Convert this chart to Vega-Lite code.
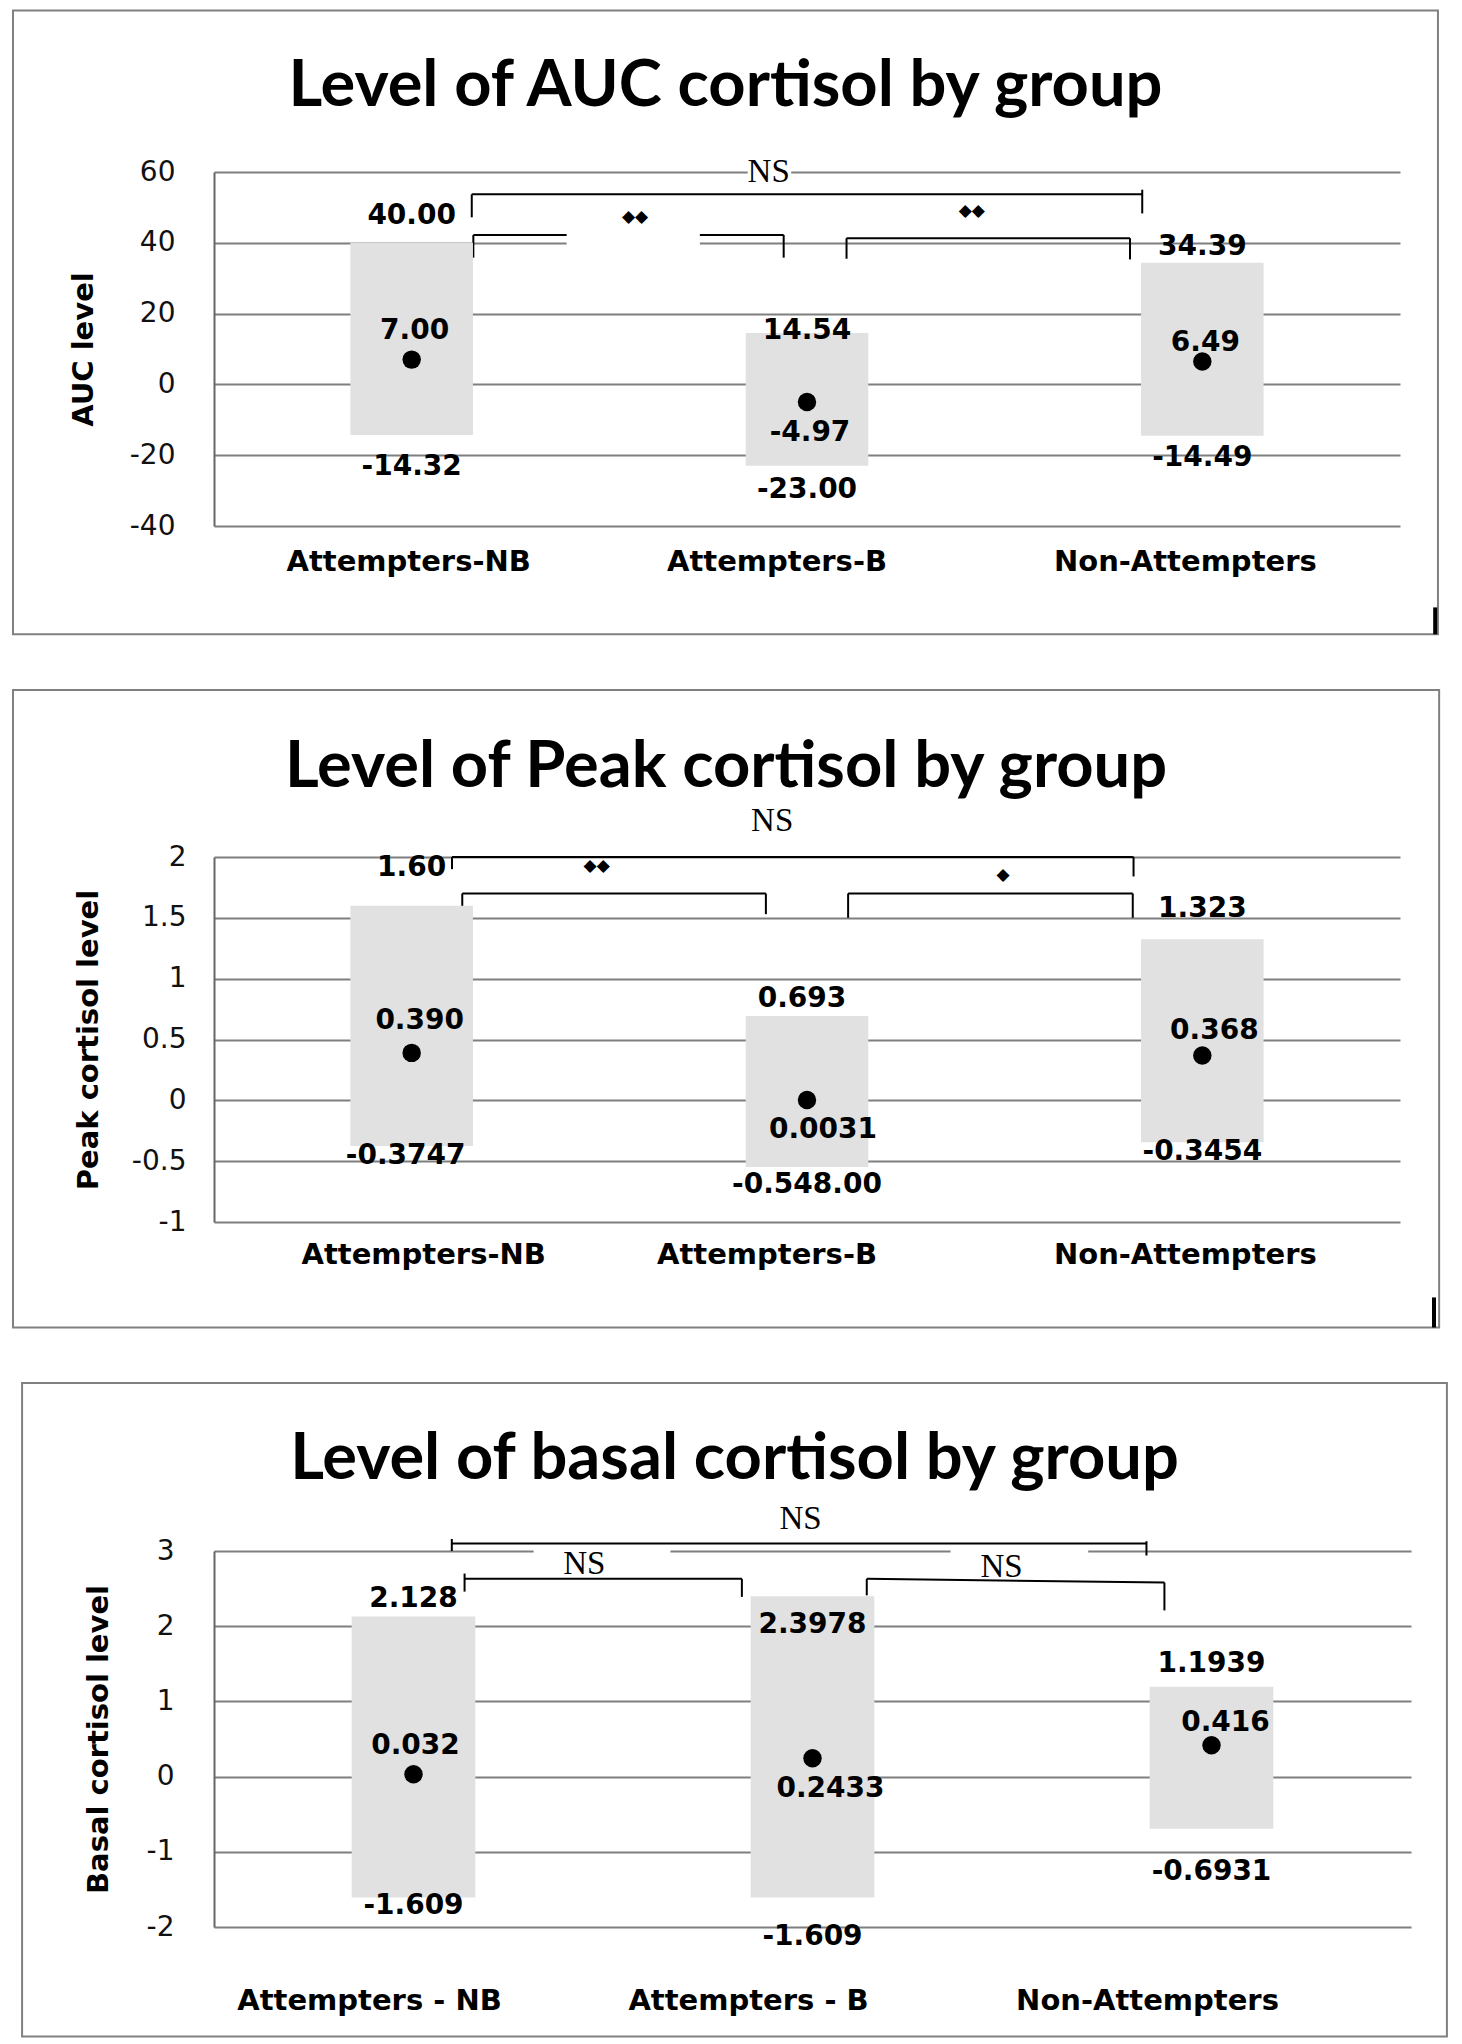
{
  "$schema": "https://vega.github.io/schema/vega-lite/v6.json",
  "background": "#ffffff",
  "padding": {"left": 12, "top": 9, "right": 10, "bottom": 5},
  "spacing": 52,
  "config": {"view": {"stroke": null}},
  "datasets": {
    "auc": [
      {"group": "Attempters-NB", "low": -14.32, "mean": 7.00, "high": 40.00, "lowLabel": "-14.32", "meanLabel": "7.00", "highLabel": "40.00"},
      {"group": "Attempters-B", "low": -23.00, "mean": -4.97, "high": 14.54, "lowLabel": "-23.00", "meanLabel": "-4.97", "highLabel": "14.54"},
      {"group": "Non-Attempters", "low": -14.49, "mean": 6.49, "high": 34.39, "lowLabel": "-14.49", "meanLabel": "6.49", "highLabel": "34.39"}
    ],
    "aucBr": [
      {"xa": 0.152, "xb": 1.848, "ya": 53.7, "yb": 53.7},
      {"xa": 0.152, "xb": 0.152, "ya": 53.7, "yb": 47.2},
      {"xa": 1.848, "xb": 1.848, "ya": 55.0, "yb": 48.3},
      {"xa": 0.156, "xb": 0.941, "ya": 42.2, "yb": 42.2},
      {"xa": 0.156, "xb": 0.156, "ya": 42.2, "yb": 35.8},
      {"xa": 0.941, "xb": 0.941, "ya": 42.2, "yb": 35.8},
      {"xa": 1.100, "xb": 1.817, "ya": 41.3, "yb": 41.3},
      {"xa": 1.100, "xb": 1.100, "ya": 41.3, "yb": 35.5},
      {"xa": 1.817, "xb": 1.817, "ya": 41.3, "yb": 35.3}
    ],
    "aucGap": [
      {"xa": 0.392, "xb": 0.729, "ya": 38.6, "yb": 43.6},
      {"xa": 0.85, "xb": 0.96, "ya": 58.5, "yb": 61.5}
    ],
    "aucSig": [
      {"label": "NS", "xa": 0.903, "ya": 60},
      {"label": "◆◆", "xa": 0.565, "ya": 47.3},
      {"label": "◆◆", "xa": 1.417, "ya": 48.9}
    ],
    "peak": [
      {"group": "Attempters-NB", "low": -0.3747, "mean": 0.390, "high": 1.60, "lowLabel": "-0.3747", "meanLabel": "0.390", "highLabel": "1.60"},
      {"group": "Attempters-B", "low": -0.548, "mean": 0.0031, "high": 0.693, "lowLabel": "-0.548.00", "meanLabel": "0.0031", "highLabel": "0.693"},
      {"group": "Non-Attempters", "low": -0.3454, "mean": 0.368, "high": 1.323, "lowLabel": "-0.3454", "meanLabel": "0.368", "highLabel": "1.323"}
    ],
    "peakBr": [
      {"xa": 0.102, "xb": 1.826, "ya": 2.0, "yb": 2.0},
      {"xa": 0.102, "xb": 0.102, "ya": 2.0, "yb": 1.90},
      {"xa": 1.826, "xb": 1.826, "ya": 2.0, "yb": 1.84},
      {"xa": 0.128, "xb": 0.896, "ya": 1.70, "yb": 1.70},
      {"xa": 0.128, "xb": 0.128, "ya": 1.70, "yb": 1.5},
      {"xa": 0.896, "xb": 0.896, "ya": 1.70, "yb": 1.53},
      {"xa": 1.104, "xb": 1.824, "ya": 1.70, "yb": 1.70},
      {"xa": 1.104, "xb": 1.104, "ya": 1.70, "yb": 1.5},
      {"xa": 1.824, "xb": 1.824, "ya": 1.70, "yb": 1.5}
    ],
    "peakSig": [
      {"label": "NS", "xa": 0.912, "ya": 2.30},
      {"label": "◆◆", "xa": 0.468, "ya": 1.93},
      {"label": "◆", "xa": 1.496, "ya": 1.85}
    ],
    "basal": [
      {"group": "Attempters - NB", "low": -1.609, "mean": 0.032, "high": 2.128, "lowLabel": "-1.609", "meanLabel": "0.032", "highLabel": "2.128"},
      {"group": "Attempters - B", "low": -1.609, "mean": 0.2433, "high": 2.3978, "lowLabel": "-1.609", "meanLabel": "0.2433", "highLabel": "2.3978"},
      {"group": "Non-Attempters", "low": -0.6931, "mean": 0.416, "high": 1.1939, "lowLabel": "-0.6931", "meanLabel": "0.416", "highLabel": "1.1939"}
    ],
    "basalBr": [
      {"xa": 0.096, "xb": 1.837, "ya": 3.10, "yb": 3.10},
      {"xa": 0.096, "xb": 0.096, "ya": 3.16, "yb": 3.0},
      {"xa": 1.837, "xb": 1.837, "ya": 3.13, "yb": 2.94},
      {"xa": 0.128, "xb": 0.823, "ya": 2.63, "yb": 2.63},
      {"xa": 0.128, "xb": 0.128, "ya": 2.70, "yb": 2.46},
      {"xa": 0.823, "xb": 0.823, "ya": 2.63, "yb": 2.39},
      {"xa": 1.136, "xb": 1.882, "ya": 2.63, "yb": 2.58},
      {"xa": 1.136, "xb": 1.136, "ya": 2.63, "yb": 2.41},
      {"xa": 1.882, "xb": 1.882, "ya": 2.58, "yb": 2.21}
    ],
    "basalGap": [
      {"xa": 0.301, "xb": 0.644, "ya": 2.72, "yb": 3.06},
      {"xa": 1.346, "xb": 1.691, "ya": 2.72, "yb": 3.06}
    ],
    "basalSig": [
      {"label": "NS", "xa": 0.970, "ya": 3.42},
      {"label": "NS", "xa": 0.428, "ya": 2.83},
      {"label": "NS", "xa": 1.474, "ya": 2.79}
    ]
  },
  "vconcat": [
    {
      "width": 1186, "height": 354,
      "title": {"text": "Level of AUC cortisol by group", "font": "Lato", "fontSize": 65, "fontWeight": "bold", "color": "#000", "anchor": "middle", "frame": "bounds", "baseline": "alphabetic", "offset": -162},
      "resolve": {"scale": {"x": "independent"}},
      "layer": [
        {
          "layer": [
            {"data": {"values": [{}]}, "mark": {"type": "rect", "fill": "#ffffff", "fillOpacity": 0, "stroke": "#808080", "strokeWidth": 2, "clip": false},
             "encoding": {"x": {"datum": -1.0084, "type": "quantitative", "scale": {"domain": [-0.5, 2.5], "nice": false, "zero": false}, "axis": null}, "x2": {"datum": 2.596},
                          "y": {"datum": 105.65, "type": "quantitative", "scale": {"domain": [-40, 60], "nice": false, "zero": false}}, "y2": {"datum": -70.6}}},
            {"data": {"values": [{}]}, "mark": {"type": "rule", "color": "#000", "strokeWidth": 4, "clip": false},
             "encoding": {"x": {"datum": 2.589, "type": "quantitative", "scale": {"domain": [-0.5, 2.5], "nice": false, "zero": false}, "axis": null},
                          "y": {"datum": -70.6, "type": "quantitative", "scale": {"domain": [-40, 60], "nice": false, "zero": false}}, "y2": {"datum": -63.0}}},
            {"data": {"name": "aucBr"}, "mark": {"type": "rule", "color": "#000", "strokeWidth": 2, "clip": false},
             "encoding": {"x": {"field": "xa", "type": "quantitative", "scale": {"domain": [-0.5, 2.5], "nice": false, "zero": false}, "axis": null}, "x2": {"field": "xb"},
                          "y": {"field": "ya", "type": "quantitative", "scale": {"domain": [-40, 60], "nice": false, "zero": false}}, "y2": {"field": "yb"}}},
            {"data": {"name": "aucGap"}, "mark": {"type": "rect", "color": "#ffffff", "clip": false},
             "encoding": {"x": {"field": "xa", "type": "quantitative", "scale": {"domain": [-0.5, 2.5], "nice": false, "zero": false}, "axis": null}, "x2": {"field": "xb"},
                          "y": {"field": "ya", "type": "quantitative", "scale": {"domain": [-40, 60], "nice": false, "zero": false}}, "y2": {"field": "yb"}}},
            {"data": {"name": "aucSig"}, "transform": [{"filter": "datum.label == 'NS'"}], "mark": {"type": "text", "font": "Liberation Serif", "fontSize": 33, "color": "#000", "baseline": "middle", "clip": false},
             "encoding": {"x": {"field": "xa", "type": "quantitative", "scale": {"domain": [-0.5, 2.5], "nice": false, "zero": false}, "axis": null},
                          "y": {"field": "ya", "type": "quantitative", "scale": {"domain": [-40, 60], "nice": false, "zero": false}}, "text": {"field": "label"}}},
            {"data": {"name": "aucSig"}, "transform": [{"filter": "datum.label != 'NS'"}], "mark": {"type": "text", "font": "DejaVu Sans", "fontSize": 17, "color": "#000", "baseline": "middle", "clip": false},
             "encoding": {"x": {"field": "xa", "type": "quantitative", "scale": {"domain": [-0.5, 2.5], "nice": false, "zero": false}, "axis": null},
                          "y": {"field": "ya", "type": "quantitative", "scale": {"domain": [-40, 60], "nice": false, "zero": false}}, "text": {"field": "label"}}}
          ]
        },
        {
          "data": {"name": "auc"},
          "layer": [
            {"mark": {"type": "bar", "width": {"band": 0.31}, "color": "#e1e1e1"},
             "encoding": {
               "x": {"field": "group", "type": "nominal", "sort": null, "scale": {"type": "band", "paddingInner": 0, "paddingOuter": 0},
                     "axis": {"title": null, "labelFont": "DejaVu Sans", "labelFontWeight": "bold", "labelFontSize": 29, "labelColor": "#000", "labelAngle": 0, "labelLimit": 0, "labelPadding": 21,
                              "labelOffset": {"condition": [{"test": "datum.value == 'Attempters-NB'", "value": -3}, {"test": "datum.value == 'Attempters-B'", "value": -30}], "value": -17},
                              "ticks": false, "tickSize": 0, "domain": false, "grid": false}},
               "y": {"field": "low", "type": "quantitative", "scale": {"domain": [-40, 60], "nice": false, "zero": false},
                     "axis": {"title": "AUC level", "titleFont": "DejaVu Sans", "titleFontSize": 29, "titleFontWeight": "bold", "titleColor": "#000", "titlePadding": 31,
                              "labelFont": "DejaVu Sans", "labelFontSize": 28, "labelColor": "#111", "labelPadding": 39, "ticks": false, "tickSize": 0,
                              "values": [-40, -20, 0, 20, 40, 60], "labelExpr": "toString(datum.value)",
                              "grid": true, "gridColor": "#7f7f7f", "gridWidth": 2, "domainColor": "#666", "domainWidth": 2}},
               "y2": {"field": "high"}}},
            {"mark": {"type": "point", "filled": true, "shape": "circle", "size": 340, "color": "#000", "opacity": 1},
             "encoding": {"x": {"field": "group", "type": "nominal", "sort": null}, "y": {"field": "mean", "type": "quantitative", "scale": {"domain": [-40, 60], "nice": false, "zero": false}}}},
            {"mark": {"type": "text", "font": "DejaVu Sans", "fontWeight": "bold", "fontSize": 28, "color": "#000", "baseline": "middle", "clip": false,
                      "dy": {"expr": "datum.group == 'Attempters-NB' ? -27 : datum.group == 'Attempters-B' ? -2 : -16"}},
             "encoding": {"x": {"field": "group", "type": "nominal", "sort": null}, "y": {"field": "high", "type": "quantitative", "scale": {"domain": [-40, 60], "nice": false, "zero": false}}, "text": {"field": "highLabel"}}},
            {"mark": {"type": "text", "font": "DejaVu Sans", "fontWeight": "bold", "fontSize": 28, "color": "#000", "baseline": "middle", "clip": false, "dx": 3,
                      "dy": {"expr": "datum.group == 'Attempters-NB' ? -29 : datum.group == 'Attempters-B' ? 31 : -18"}},
             "encoding": {"x": {"field": "group", "type": "nominal", "sort": null}, "y": {"field": "mean", "type": "quantitative", "scale": {"domain": [-40, 60], "nice": false, "zero": false}}, "text": {"field": "meanLabel"}}},
            {"mark": {"type": "text", "font": "DejaVu Sans", "fontWeight": "bold", "fontSize": 28, "color": "#000", "baseline": "middle", "clip": false,
                      "dy": {"expr": "datum.group == 'Attempters-NB' ? 32 : datum.group == 'Attempters-B' ? 24 : 22"}},
             "encoding": {"x": {"field": "group", "type": "nominal", "sort": null}, "y": {"field": "low", "type": "quantitative", "scale": {"domain": [-40, 60], "nice": false, "zero": false}}, "text": {"field": "lowLabel"}}}
          ]
        }
      ]
    },
    {
      "width": 1186, "height": 365,
      "title": {"text": "Level of Peak cortisol by group", "font": "Lato", "fontSize": 65, "fontWeight": "bold", "color": "#000", "anchor": "middle", "frame": "bounds", "baseline": "alphabetic", "offset": -163},
      "resolve": {"scale": {"x": "independent"}},
      "layer": [
        {
          "layer": [
            {"data": {"values": [{}]}, "mark": {"type": "rect", "fill": "#ffffff", "fillOpacity": 0, "stroke": "#808080", "strokeWidth": 2, "clip": false},
             "encoding": {"x": {"datum": -1.0084, "type": "quantitative", "scale": {"domain": [-0.5, 2.5], "nice": false, "zero": false}, "axis": null}, "x2": {"datum": 2.599},
                          "y": {"datum": 3.372, "type": "quantitative", "scale": {"domain": [-1, 2], "nice": false, "zero": false}}, "y2": {"datum": -1.867}}},
            {"data": {"values": [{}]}, "mark": {"type": "rule", "color": "#000", "strokeWidth": 4, "clip": false},
             "encoding": {"x": {"datum": 2.586, "type": "quantitative", "scale": {"domain": [-0.5, 2.5], "nice": false, "zero": false}, "axis": null},
                          "y": {"datum": -1.867, "type": "quantitative", "scale": {"domain": [-1, 2], "nice": false, "zero": false}}, "y2": {"datum": -1.62}}},
            {"data": {"name": "peakBr"}, "mark": {"type": "rule", "color": "#000", "strokeWidth": 2, "clip": false},
             "encoding": {"x": {"field": "xa", "type": "quantitative", "scale": {"domain": [-0.5, 2.5], "nice": false, "zero": false}, "axis": null}, "x2": {"field": "xb"},
                          "y": {"field": "ya", "type": "quantitative", "scale": {"domain": [-1, 2], "nice": false, "zero": false}}, "y2": {"field": "yb"}}},
            {"data": {"name": "peakSig"}, "transform": [{"filter": "datum.label == 'NS'"}], "mark": {"type": "text", "font": "Liberation Serif", "fontSize": 33, "color": "#000", "baseline": "middle", "clip": false},
             "encoding": {"x": {"field": "xa", "type": "quantitative", "scale": {"domain": [-0.5, 2.5], "nice": false, "zero": false}, "axis": null},
                          "y": {"field": "ya", "type": "quantitative", "scale": {"domain": [-1, 2], "nice": false, "zero": false}}, "text": {"field": "label"}}},
            {"data": {"name": "peakSig"}, "transform": [{"filter": "datum.label != 'NS'"}], "mark": {"type": "text", "font": "DejaVu Sans", "fontSize": 17, "color": "#000", "baseline": "middle", "clip": false},
             "encoding": {"x": {"field": "xa", "type": "quantitative", "scale": {"domain": [-0.5, 2.5], "nice": false, "zero": false}, "axis": null},
                          "y": {"field": "ya", "type": "quantitative", "scale": {"domain": [-1, 2], "nice": false, "zero": false}}, "text": {"field": "label"}}}
          ]
        },
        {
          "data": {"name": "peak"},
          "layer": [
            {"mark": {"type": "bar", "width": {"band": 0.31}, "color": "#e1e1e1"},
             "encoding": {
               "x": {"field": "group", "type": "nominal", "sort": null, "scale": {"type": "band", "paddingInner": 0, "paddingOuter": 0},
                     "axis": {"title": null, "labelFont": "DejaVu Sans", "labelFontWeight": "bold", "labelFontSize": 29, "labelColor": "#000", "labelAngle": 0, "labelLimit": 0, "labelPadding": 18,
                              "labelOffset": {"condition": [{"test": "datum.value == 'Attempters-NB'", "value": 12}, {"test": "datum.value == 'Attempters-B'", "value": -40}], "value": -17},
                              "ticks": false, "tickSize": 0, "domain": false, "grid": false}},
               "y": {"field": "low", "type": "quantitative", "scale": {"domain": [-1, 2], "nice": false, "zero": false},
                     "axis": {"title": "Peak cortisol level", "titleFont": "DejaVu Sans", "titleFontSize": 29, "titleFontWeight": "bold", "titleColor": "#000", "titlePadding": 28,
                              "labelFont": "DejaVu Sans", "labelFontSize": 28, "labelColor": "#111", "labelPadding": 28, "ticks": false, "tickSize": 0,
                              "values": [-1, -0.5, 0, 0.5, 1, 1.5, 2], "labelExpr": "toString(datum.value)",
                              "grid": true, "gridColor": "#7f7f7f", "gridWidth": 2, "domainColor": "#666", "domainWidth": 2}},
               "y2": {"field": "high"}}},
            {"mark": {"type": "point", "filled": true, "shape": "circle", "size": 340, "color": "#000", "opacity": 1},
             "encoding": {"x": {"field": "group", "type": "nominal", "sort": null}, "y": {"field": "mean", "type": "quantitative", "scale": {"domain": [-1, 2], "nice": false, "zero": false}}}},
            {"mark": {"type": "text", "font": "DejaVu Sans", "fontWeight": "bold", "fontSize": 28, "color": "#000", "baseline": "middle", "clip": false,
                      "dx": {"expr": "datum.group == 'Attempters-B' ? -5 : 0"},
                      "dy": {"expr": "datum.group == 'Attempters-NB' ? -38 : datum.group == 'Attempters-B' ? -17 : -30"}},
             "encoding": {"x": {"field": "group", "type": "nominal", "sort": null}, "y": {"field": "high", "type": "quantitative", "scale": {"domain": [-1, 2], "nice": false, "zero": false}}, "text": {"field": "highLabel"}}},
            {"mark": {"type": "text", "font": "DejaVu Sans", "fontWeight": "bold", "fontSize": 28, "color": "#000", "baseline": "middle", "clip": false,
                      "dx": {"expr": "datum.group == 'Attempters-NB' ? 8 : datum.group == 'Attempters-B' ? 16 : 12"},
                      "dy": {"expr": "datum.group == 'Attempters-NB' ? -32 : datum.group == 'Attempters-B' ? 30 : -25"}},
             "encoding": {"x": {"field": "group", "type": "nominal", "sort": null}, "y": {"field": "mean", "type": "quantitative", "scale": {"domain": [-1, 2], "nice": false, "zero": false}}, "text": {"field": "meanLabel"}}},
            {"mark": {"type": "text", "font": "DejaVu Sans", "fontWeight": "bold", "fontSize": 28, "color": "#000", "baseline": "middle", "clip": false,
                      "dx": {"expr": "datum.group == 'Attempters-NB' ? -6 : 0"},
                      "dy": {"expr": "datum.group == 'Attempters-NB' ? 10 : datum.group == 'Attempters-B' ? 18 : 10"}},
             "encoding": {"x": {"field": "group", "type": "nominal", "sort": null}, "y": {"field": "low", "type": "quantitative", "scale": {"domain": [-1, 2], "nice": false, "zero": false}}, "text": {"field": "lowLabel"}}}
          ]
        }
      ]
    },
    {
      "width": 1197, "height": 376,
      "title": {"text": "Level of basal cortisol by group", "font": "Lato", "fontSize": 65, "fontWeight": "bold", "color": "#000", "anchor": "middle", "frame": "bounds", "baseline": "alphabetic", "offset": -162},
      "resolve": {"scale": {"x": "independent"}},
      "layer": [
        {
          "layer": [
            {"data": {"values": [{}]}, "mark": {"type": "rect", "fill": "#ffffff", "fillOpacity": 0, "stroke": "#808080", "strokeWidth": 2, "clip": false},
             "encoding": {"x": {"datum": -0.981, "type": "quantitative", "scale": {"domain": [-0.5, 2.5], "nice": false, "zero": false}, "axis": null}, "x2": {"datum": 2.590},
                          "y": {"datum": 5.234, "type": "quantitative", "scale": {"domain": [-2, 3], "nice": false, "zero": false}}, "y2": {"datum": -3.456}}},
            {"data": {"name": "basalBr"}, "mark": {"type": "rule", "color": "#000", "strokeWidth": 2, "clip": false},
             "encoding": {"x": {"field": "xa", "type": "quantitative", "scale": {"domain": [-0.5, 2.5], "nice": false, "zero": false}, "axis": null}, "x2": {"field": "xb"},
                          "y": {"field": "ya", "type": "quantitative", "scale": {"domain": [-2, 3], "nice": false, "zero": false}}, "y2": {"field": "yb"}}},
            {"data": {"name": "basalGap"}, "mark": {"type": "rect", "color": "#ffffff", "clip": false},
             "encoding": {"x": {"field": "xa", "type": "quantitative", "scale": {"domain": [-0.5, 2.5], "nice": false, "zero": false}, "axis": null}, "x2": {"field": "xb"},
                          "y": {"field": "ya", "type": "quantitative", "scale": {"domain": [-2, 3], "nice": false, "zero": false}}, "y2": {"field": "yb"}}},
            {"data": {"name": "basalSig"}, "mark": {"type": "text", "font": "Liberation Serif", "fontSize": 33, "color": "#000", "baseline": "middle", "clip": false},
             "encoding": {"x": {"field": "xa", "type": "quantitative", "scale": {"domain": [-0.5, 2.5], "nice": false, "zero": false}, "axis": null},
                          "y": {"field": "ya", "type": "quantitative", "scale": {"domain": [-2, 3], "nice": false, "zero": false}}, "text": {"field": "label"}}}
          ]
        },
        {
          "data": {"name": "basal"},
          "layer": [
            {"mark": {"type": "bar", "width": {"band": 0.31}, "color": "#e1e1e1"},
             "encoding": {
               "x": {"field": "group", "type": "nominal", "sort": null, "scale": {"type": "band", "paddingInner": 0, "paddingOuter": 0},
                     "axis": {"title": null, "labelFont": "DejaVu Sans", "labelFontWeight": "bold", "labelFontSize": 29, "labelColor": "#000", "labelAngle": 0, "labelLimit": 0, "labelPadding": 59,
                              "labelOffset": {"condition": [{"test": "datum.value == 'Attempters - NB'", "value": -44}], "value": -64},
                              "ticks": false, "tickSize": 0, "domain": false, "grid": false}},
               "y": {"field": "low", "type": "quantitative", "scale": {"domain": [-2, 3], "nice": false, "zero": false},
                     "axis": {"title": "Basal cortisol level", "titleFont": "DejaVu Sans", "titleFontSize": 29, "titleFontWeight": "bold", "titleColor": "#000", "titlePadding": 33,
                              "labelFont": "DejaVu Sans", "labelFontSize": 28, "labelColor": "#111", "labelPadding": 40, "ticks": false, "tickSize": 0,
                              "values": [-2, -1, 0, 1, 2, 3], "labelExpr": "toString(datum.value)",
                              "grid": true, "gridColor": "#7f7f7f", "gridWidth": 2, "domainColor": "#666", "domainWidth": 2}},
               "y2": {"field": "high"}}},
            {"mark": {"type": "point", "filled": true, "shape": "circle", "size": 340, "color": "#000", "opacity": 1},
             "encoding": {"x": {"field": "group", "type": "nominal", "sort": null}, "y": {"field": "mean", "type": "quantitative", "scale": {"domain": [-2, 3], "nice": false, "zero": false}}}},
            {"mark": {"type": "text", "font": "DejaVu Sans", "fontWeight": "bold", "fontSize": 28, "color": "#000", "baseline": "middle", "clip": false,
                      "dy": {"expr": "datum.group == 'Attempters - NB' ? -18 : datum.group == 'Attempters - B' ? 29 : -23"}},
             "encoding": {"x": {"field": "group", "type": "nominal", "sort": null}, "y": {"field": "high", "type": "quantitative", "scale": {"domain": [-2, 3], "nice": false, "zero": false}}, "text": {"field": "highLabel"}}},
            {"mark": {"type": "text", "font": "DejaVu Sans", "fontWeight": "bold", "fontSize": 28, "color": "#000", "baseline": "middle", "clip": false,
                      "dx": {"expr": "datum.group == 'Attempters - NB' ? 2 : datum.group == 'Attempters - B' ? 18 : 14"},
                      "dy": {"expr": "datum.group == 'Attempters - NB' ? -28 : datum.group == 'Attempters - B' ? 31 : -22"}},
             "encoding": {"x": {"field": "group", "type": "nominal", "sort": null}, "y": {"field": "mean", "type": "quantitative", "scale": {"domain": [-2, 3], "nice": false, "zero": false}}, "text": {"field": "meanLabel"}}},
            {"mark": {"type": "text", "font": "DejaVu Sans", "fontWeight": "bold", "fontSize": 28, "color": "#000", "baseline": "middle", "clip": false,
                      "dy": {"expr": "datum.group == 'Attempters - NB' ? 8 : datum.group == 'Attempters - B' ? 39 : 43"}},
             "encoding": {"x": {"field": "group", "type": "nominal", "sort": null}, "y": {"field": "low", "type": "quantitative", "scale": {"domain": [-2, 3], "nice": false, "zero": false}}, "text": {"field": "lowLabel"}}}
          ]
        }
      ]
    }
  ]
}
